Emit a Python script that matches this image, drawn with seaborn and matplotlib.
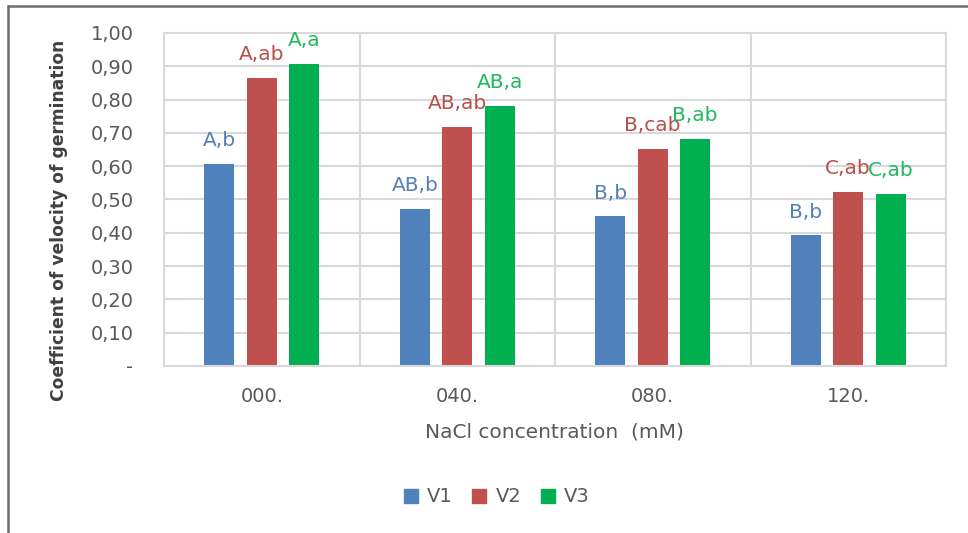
import numpy as np
import pandas as pd
import matplotlib
matplotlib.use("Agg")
import matplotlib.pyplot as plt
from matplotlib.lines import Line2D
from matplotlib.ticker import FuncFormatter, MultipleLocator
import seaborn as sns

# ---- data ----
categories = ["000.", "040.", "080.", "120."]
series = ["V1", "V2", "V3"]
v1 = [0.607, 0.472, 0.449, 0.392]
v2 = [0.866, 0.718, 0.652, 0.523]
v3 = [0.908, 0.780, 0.681, 0.518]
v1_labels = ["A,b", "AB,b", "B,b", "B,b"]
v2_labels = ["A,ab", "AB,ab", "B,cab", "C,ab"]
v3_labels = ["A,a", "AB,a", "B,ab", "C,ab"]
colors = ["#4f81bd", "#c0504d", "#00b050"]
text_colors = ["#5580ba", "#b8504e", "#1fba5c"]

df = pd.DataFrame({
    "conc": categories * 3,
    "variety": sum([[s] * len(categories) for s in series], []),
    "value": v1 + v2 + v3,
})
labels_all = [v1_labels, v2_labels, v3_labels]

sns.set_theme(style="white")
plt.rcParams["font.family"] = ["DejaVu Sans"]

fig = plt.figure(figsize=(9.68, 5.33), dpi=100)
ax = fig.add_axes([164 / 968, 1 - 366 / 533, (946 - 164) / 968, (366 - 33) / 533])

sns.barplot(data=df, x="conc", y="value", hue="variety", order=categories,
            hue_order=series, palette=colors, width=0.65, gap=0.29,
            saturation=1, ax=ax, legend=True, edgecolor="none")

grid_c = "#d9d9d9"
ax.set_ylim(0, 1.0)
ax.set_xlim(-0.5, len(categories) - 0.5)
ax.yaxis.set_major_locator(MultipleLocator(0.1))
ax.yaxis.set_major_formatter(FuncFormatter(
    lambda v, p: "-" if abs(v) < 1e-9 else f"{v:.2f}".replace(".", ",")))
ax.set_xticks(np.arange(-0.5, len(categories), 1.0), minor=True)
ax.grid(axis="y", which="major", color=grid_c, lw=1.5)
ax.grid(axis="x", which="minor", color=grid_c, lw=1.5)
ax.grid(axis="x", which="major", visible=False)
ax.set_axisbelow(True)
for s in ax.spines.values():
    s.set_color(grid_c)
    s.set_linewidth(1.5)
ax.tick_params(axis="both", which="both", length=0)
ax.tick_params(axis="y", pad=22, labelsize=14, labelcolor="#595959")
ax.tick_params(axis="x", pad=15, labelsize=14, labelcolor="#595959")

ax.set_xlabel("")
ax.set_ylabel("")
fig.text(554 / 968, 1 - 432 / 533, "NaCl concentration  (mM)", ha="center",
         va="center", fontsize=14.5, color="#595959")
fig.text(59 / 968, 1 - 220 / 533, "Coefficient of velocity of germination",
         ha="center", va="center", rotation=90, fontsize=12.3,
         fontweight="bold", color="#404040")

for cont, labs, tc in zip(ax.containers, labels_all, text_colors):
    ax.bar_label(cont, labels=labs, padding=10, fontsize=14.5, color=tc)

leg = ax.get_legend()
if leg is not None:
    leg.remove()
handles = [plt.Rectangle((0, 0), 1, 1, color=c) for c in colors]
fig.legend(handles, series, loc="center", bbox_to_anchor=(497 / 968, 1 - 497 / 533),
           ncol=3, frameon=False, fontsize=14, handlelength=0.7,
           handleheight=0.7, handletextpad=0.5, columnspacing=1.0,
           labelcolor="#595959")

# outer frame lines (top and left)
fig.add_artist(Line2D([8 / 968, 1.0], [1 - 6 / 533, 1 - 6 / 533],
                      transform=fig.transFigure, color="#6e6e6e", lw=1.8))
fig.add_artist(Line2D([8 / 968, 8 / 968], [0.0, 1 - 6 / 533],
                      transform=fig.transFigure, color="#6e6e6e", lw=1.8))

fig.savefig("out.png", dpi=100)
